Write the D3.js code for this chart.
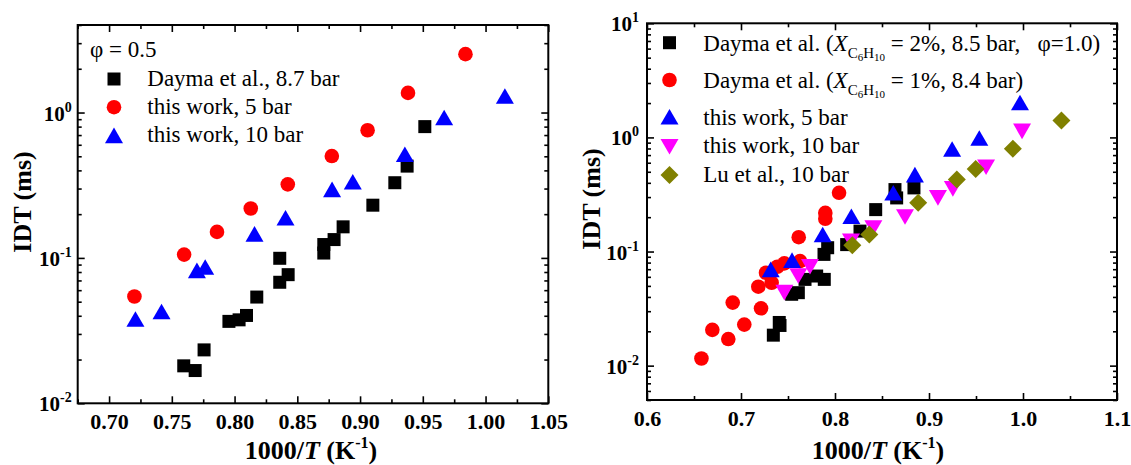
<!DOCTYPE html>
<html><head><meta charset="utf-8">
<script src="https://cdn.jsdelivr.net/npm/d3@7"></script>
<style>
body{margin:0;background:#fff}
svg{display:block}
text{font-family:"Liberation Serif","Times New Roman",serif;white-space:pre}
</style>
</head><body>
<svg id="c" width="1131" height="465"></svg>
<script>
// ---------- Left panel data (phi = 0.5) ----------
const leftDaymaX = [0.7595,0.7686,0.7757,0.7955,0.8036,0.8095,0.8177,0.836,0.8427,0.836,0.8711,0.8711,0.8793,0.8865,0.9102,0.9277,0.9375,0.9516];
const leftDaymaY = [0.0181,0.0168,0.0233,0.0366,0.0375,0.0402,0.0538,0.068,0.0767,0.0994,0.108,0.1236,0.1337,0.1636,0.2305,0.329,0.428,0.80];
const left5X = [0.7202,0.7598,0.786,0.8129,0.8424,0.8775,0.906,0.9382,0.984];
const left5Y = [0.0543,0.1054,0.151,0.2188,0.3206,0.502,0.755,1.365,2.52];
const left10X = [0.721,0.7418,0.770,0.7766,0.8159,0.8406,0.8777,0.8942,0.9357,0.967,1.0154];
const left10Y = [0.0380,0.0428,0.0821,0.0867,0.1464,0.189,0.296,0.334,0.516,0.924,1.30];

// ---------- Right panel data ----------
const rDayma2X = [0.7344,0.7407,0.7415,0.7539,0.761,0.7681,0.7805,0.7886,0.7883,0.7922,0.8124,0.8266,0.8433,0.8638,0.8656,0.884];
const rDayma2Y = [0.0185,0.0239,0.0225,0.0422,0.0436,0.057,0.061,0.057,0.0944,0.108,0.115,0.151,0.233,0.349,0.295,0.361];
const rDayma1X = [0.6579,0.6695,0.6865,0.6912,0.7035,0.7213,0.7184,0.7266,0.7326,0.7386,0.7461,0.7628,0.7614,0.7897,0.7897,0.8043];
const rDayma1Y = [0.01156,0.0206,0.0171,0.0357,0.0229,0.0318,0.0492,0.0652,0.0533,0.0736,0.0787,0.0824,0.1336,0.218,0.1935,0.327];
const r5X = [0.7316,0.7543,0.7869,0.8174,0.862,0.885,0.9246,0.9535,0.9968];
const r5Y = [0.0697,0.084,0.141,0.204,0.327,0.472,0.792,0.988,2.02];
const r10X = [0.7461,0.761,0.7734,0.817,0.8408,0.8745,0.9095,0.9254,0.9607,0.999];
const r10Y = [0.0436,0.061,0.0736,0.123,0.161,0.201,0.295,0.354,0.547,1.13];
const rLuX = [0.8184,0.8365,0.8885,0.9296,0.9497,0.9892,1.0409];
const rLuY = [0.1137,0.141,0.267,0.427,0.53,0.797,1.41];

// ---------- Tick labels ----------
const leftXTicks = [0.70,0.75,0.80,0.85,0.90,0.95,1.00,1.05];
const leftYExp = [-2,-1,0];
const rightXTicks = [0.6,0.7,0.8,0.9,1.0,1.1];
const rightYExp = [-2,-1,0,1];

const svg = d3.select("#c");

const shapes = {
  square: s => `M${-6.5},${-6.5}h13v13h-13Z`,
  up: () => `M0,-7.8L9,7.8L-9,7.8Z`,
  down: () => `M0,7.8L9,-7.8L-9,-7.8Z`,
  diamond: () => `M0,-9L9,0L0,9L-9,0Z`
};

function drawMarker(g, shape, color, px, py){
  if(shape==="circle"){
    g.append("circle").attr("cx",px).attr("cy",py).attr("r",7.3).attr("fill",color);
  } else {
    g.append("path").attr("d",shapes[shape]()).attr("transform",`translate(${px},${py})`).attr("fill",color);
  }
}

function panel(cfg){
  const {x0,x1,y0,y1} = cfg;
  const x = d3.scaleLinear().domain(cfg.xDomain).range([x0,x1]);
  const y = d3.scaleLog().domain(cfg.yDomain).range([y1,y0]);
  const g = svg.append("g");

  // minor y tick values
  const yMinor = [];
  for(let e=-3;e<=1;e++) for(let m=2;m<=9;m++){const v=m*Math.pow(10,e); if(v>=cfg.yDomain[0]&&v<=cfg.yDomain[1]) yMinor.push(v);}
  const yMajor = cfg.yExp.map(e=>Math.pow(10,e));

  const styleAxis = a => { a.select(".domain").remove(); a.selectAll("line").attr("stroke","#000").attr("stroke-width",1.6); };

  // bottom
  g.append("g").attr("transform",`translate(0,${y1})`)
    .call(d3.axisBottom(x).tickValues(cfg.xTicks).tickSize(-7).tickPadding(10).tickFormat(d3.format(cfg.xFmt)))
    .call(styleAxis)
    .call(a=>a.selectAll("text").attr("font-size",22).attr("font-weight","bold").attr("font-family","Liberation Serif, Times New Roman, serif").attr("fill","#000"));
  g.append("g").attr("transform",`translate(0,${y1})`)
    .call(d3.axisBottom(x).tickValues(cfg.xMinor).tickSize(-4).tickFormat("")).call(styleAxis);
  // top
  g.append("g").attr("transform",`translate(0,${y0})`)
    .call(d3.axisTop(x).tickValues(cfg.xTicks).tickSize(-7).tickFormat("")).call(styleAxis);
  g.append("g").attr("transform",`translate(0,${y0})`)
    .call(d3.axisTop(x).tickValues(cfg.xMinor).tickSize(-4).tickFormat("")).call(styleAxis);
  // left
  g.append("g").attr("transform",`translate(${x0},0)`)
    .call(d3.axisLeft(y).tickValues(yMajor).tickSize(-7).tickFormat("")).call(styleAxis);
  g.append("g").attr("transform",`translate(${x0},0)`)
    .call(d3.axisLeft(y).tickValues(yMinor).tickSize(-4).tickFormat("")).call(styleAxis);
  // right
  g.append("g").attr("transform",`translate(${x1},0)`)
    .call(d3.axisRight(y).tickValues(yMajor).tickSize(-7).tickFormat("")).call(styleAxis);
  g.append("g").attr("transform",`translate(${x1},0)`)
    .call(d3.axisRight(y).tickValues(yMinor).tickSize(-4).tickFormat("")).call(styleAxis);

  // y tick labels with superscripts
  cfg.yExp.forEach(e=>{
    const t = g.append("text").attr("x",x0-cfg.yLabOff).attr("y",y(Math.pow(10,e))+8)
      .attr("text-anchor","end").attr("font-size",21).attr("font-weight","bold");
    t.append("tspan").text("10");
    t.append("tspan").attr("font-size",14).attr("dy",-9).text(String(e));
  });

  // frame
  g.append("rect").attr("x",x0).attr("y",y0).attr("width",x1-x0).attr("height",y1-y0)
    .attr("fill","none").attr("stroke","#000").attr("stroke-width",2);

  // axis titles
  const xt = g.append("text").attr("x",cfg.xTitleX).attr("y",459).attr("text-anchor","middle")
    .attr("font-size",26).attr("font-weight","bold");
  xt.append("tspan").text("1000/");
  xt.append("tspan").attr("font-style","italic").text("T");
  xt.append("tspan").text(" (K");
  xt.append("tspan").attr("font-size",16).attr("dy",-11).text("-1");
  xt.append("tspan").attr("dy",11).text(")");

  g.append("text").attr("transform",`translate(${cfg.yTitleX},${cfg.yTitleY}) rotate(-90)`)
    .attr("text-anchor","middle").attr("font-size",26).attr("font-weight","bold").text("IDT (ms)");

  // data
  const dg = g.append("g");
  cfg.series.forEach(s=>{
    s.xs.forEach((xv,i)=> drawMarker(dg, s.shape, s.color, x(xv), y(s.ys[i])));
  });
  return g;
}

const leftG = panel({
  x0:77.7, x1:548.3, y0:25, y1:403.3,
  xDomain:[0.675,1.05], yDomain:[0.01,4],
  xTicks:leftXTicks, xMinor:[0.675,0.725,0.775,0.825,0.875,0.925,0.975,1.025], xFmt:".2f",
  yExp:leftYExp, yLabOff:6,
  xTitleX:311, yTitleX:31, yTitleY:202,
  series:[
    {xs:leftDaymaX, ys:leftDaymaY, shape:"square", color:"#000000"},
    {xs:left5X, ys:left5Y, shape:"circle", color:"#ff0000"},
    {xs:left10X, ys:left10Y, shape:"up", color:"#0000ff"}
  ]
});

const rightG = panel({
  x0:647, x1:1117, y0:23.3, y1:400,
  xDomain:[0.6,1.1], yDomain:[0.005,10],
  xTicks:rightXTicks, xMinor:[0.65,0.75,0.85,0.95,1.05], xFmt:".1f",
  yExp:rightYExp, yLabOff:8,
  xTitleX:878, yTitleX:600, yTitleY:199,
  series:[
    {xs:rDayma1X, ys:rDayma1Y, shape:"circle", color:"#ff0000"},
    {xs:rDayma2X, ys:rDayma2Y, shape:"square", color:"#000000"},
    {xs:r5X, ys:r5Y, shape:"up", color:"#0000ff"},
    {xs:r10X, ys:r10Y, shape:"down", color:"#ff00ff"},
    {xs:rLuX, ys:rLuY, shape:"diamond", color:"#808000"}
  ]
});

// ---------- Left legend ----------
const LF = 23;
leftG.append("text").attr("x",90).attr("y",56.7).attr("font-size",LF).text("φ = 0.5");
const leftLegend = [
  {shape:"square", color:"#000000", label:"Dayma et al., 8.7 bar"},
  {shape:"circle", color:"#ff0000", label:"this work, 5 bar"},
  {shape:"up", color:"#0000ff", label:"this work, 10 bar"}
];
leftLegend.forEach((d,i)=>{
  const cy = 79 + i*28.2;
  drawMarker(leftG, d.shape, d.color, 114, cy);
  leftG.append("text").attr("x",147.3).attr("y",cy+6.5).attr("font-size",LF).text(d.label);
});

// ---------- Right legend ----------
const rl = rightG.append("g");
const rowY = [42.7, 80, 116.7, 146.7, 175];
const rShapes = [["square","#000000"],["circle","#ff0000"],["up","#0000ff"],["down","#ff00ff"],["diamond","#808000"]];
rShapes.forEach((s,i)=>drawMarker(rl, s[0], s[1], 669.5, rowY[i]));

function daymaLine(yb, rest){
  const t = rl.append("text").attr("x",703.3).attr("y",yb).attr("font-size",LF);
  t.append("tspan").text("Dayma et al. (");
  t.append("tspan").attr("font-style","italic").text("X");
  t.append("tspan").attr("font-size",15).attr("dy",7).text("C");
  t.append("tspan").attr("font-size",11).attr("dy",3).text("6");
  t.append("tspan").attr("font-size",15).attr("dy",-3).text("H");
  t.append("tspan").attr("font-size",11).attr("dy",3).text("10");
  t.append("tspan").attr("dy",-10).text(rest);
}
daymaLine(50.7, " = 2%, 8.5 bar,   φ=1.0)");
daymaLine(88.3, " = 1%, 8.4 bar)");
[["this work, 5 bar",125],["this work, 10 bar",153.3],["Lu et al., 10 bar",181.7]].forEach(d=>{
  rl.append("text").attr("x",703.3).attr("y",d[1]).attr("font-size",LF).text(d[0]);
});
</script>
</body></html>
